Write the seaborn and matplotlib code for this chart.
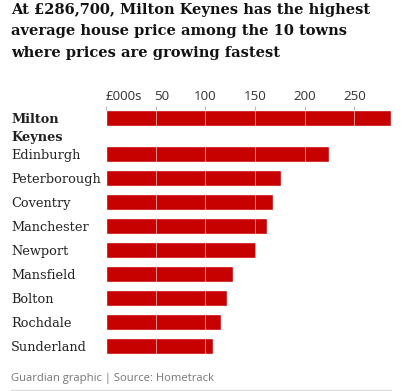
import numpy as np
import pandas as pd
import seaborn as sns
import matplotlib.pyplot as plt
from matplotlib.transforms import ScaledTranslation

towns = ['Milton\nKeynes', 'Edinburgh', 'Peterborough', 'Coventry', 'Manchester',
         'Newport', 'Mansfield', 'Bolton', 'Rochdale', 'Sunderland']
prices = [286.7, 225, 176.5, 168.5, 162.5, 151.5, 127.5, 121.5, 115.5, 107.5]  # £000s
tick_vals = [0, 50, 100, 150, 200, 250]
tick_labels = ['£000s', '50', '100', '150', '200', '250']

df = pd.DataFrame({'town': towns, 'price': prices})
# the wrapped first label needs a bit more room below it
df['pos'] = np.arange(len(df)) + 0.5 * (np.arange(len(df)) > 0)

sns.set_theme(style='white')
plt.rcParams['font.family'] = ['Open Sans', 'DejaVu Sans']

fig = plt.figure(figsize=(4.08, 3.91), dpi=100)
ax = fig.add_axes([106 / 408, 37 / 391, 285 / 408, 244 / 391])

sns.barplot(data=df, x='price', y='pos', orient='y', native_scale=True,
            color='#c70000', saturation=1, width=0.667, ax=ax)

ax.set_xlim(0, 287)
ax.set_ylim(df['pos'].iloc[-1] + 0.333, -0.333)
for s in ax.spines.values():
    s.set_visible(False)

# x axis on top, grey ticks, light gridlines over the bars
ax.xaxis.tick_top()
ax.set_xticks(tick_vals, tick_labels)
ax.tick_params(axis='x', length=3, width=0.8, color='#bbbbbb', pad=2,
               labelsize=9.6, labelcolor='#333333')
xl = ax.get_xticklabels()
xl[0].set_ha('left')
xl[1].set_transform(xl[1].get_transform() + ScaledTranslation(4 / 72, 0, fig.dpi_scale_trans))
ax.set_axisbelow(False)
ax.grid(axis='x', color='white', alpha=0.55, linewidth=0.7)
ax.grid(axis='y', visible=False)

ax.set_yticks(df['pos'], df['town'])
ax.tick_params(axis='y', length=0, pad=68.4, labelsize=9.3)
for lab in ax.get_yticklabels():
    lab.set_ha('left')
    lab.set_family('DejaVu Serif')
    lab.set_color('#222222')
yl = ax.get_yticklabels()[0]
yl.set_weight('bold')
yl.set_va('top')
yl.set_linespacing(1.55)
yl.set_transform(yl.get_transform() + ScaledTranslation(0, 0.05, fig.dpi_scale_trans))
ax.set_xlabel('')
ax.set_ylabel('')

title = ('At £286,700, Milton Keynes has the highest\n'
         'average house price among the 10 towns\n'
         'where prices are growing fastest')
fig.text(11 / 408, 1 - 3 / 391, title,
         ha='left', va='top', fontsize=10.5, weight='bold', family='DejaVu Serif',
         color='#121212', linespacing=1.68)

fig.text(11 / 408, 12 / 391, 'Guardian graphic | Source: Hometrack',
         ha='left', va='center', fontsize=8.1, color='#767676')
fig.add_artist(plt.Line2D([11 / 408, 391 / 408], [1.5 / 391, 1.5 / 391],
                          color='#dcdcdc', linewidth=1, transform=fig.transFigure))

fig.savefig('out.png', dpi=100)
